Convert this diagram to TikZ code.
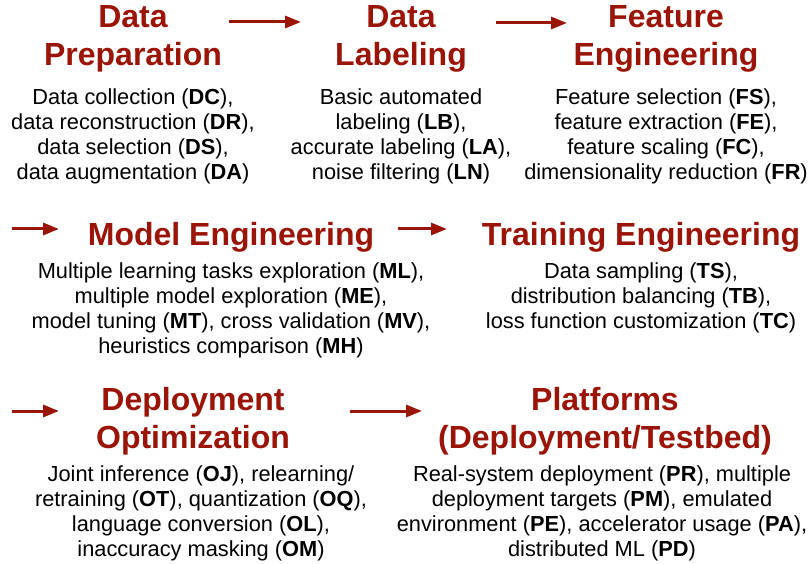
\documentclass[tikz,border=0pt]{standalone}
\usepackage{fontspec}
\setmainfont{Liberation Sans}
\usetikzlibrary{arrows.meta,positioning}
\definecolor{stagered}{RGB}{155,20,8}

\begin{document}
\begin{tikzpicture}[x=1pt, y=1pt, title/.style={font=\fontsize{32}{38}\selectfont\bfseries, text=stagered, align=center, inner sep=0pt, anchor=north}, body/.style={font=\fontsize{21.8}{25}\selectfont, align=center, inner sep=0pt}, arr/.style={-{Triangle[length=16pt,width=12pt]}, line width=3pt, draw=stagered}]
\useasboundingbox (0,0) rectangle (809,-564);
\node[title] (prep) at (133,-5) {Data\\Preparation};
\node[title] (label) at (401,-5) {Data\\Labeling};
\node[title] (feat) at (666,-5) {Feature\\Engineering};
\node[title] (model) at (231,-222) {Model Engineering};
\node[title] (train) at (641,-222) {Training Engineering};
\node[title] (deploy) at (193,-387) {Deployment\\Optimization};
\node[title] (plat) at (605,-387) {Platforms\\(Deployment/Testbed)};
\node[body, below=16pt of prep] (prepbody) {Data collection (\textbf{DC}),\\data reconstruction (\textbf{DR}),\\data selection (\textbf{DS}),\\data augmentation (\textbf{DA})};
\node[body, below=16pt of label] (labelbody) {Basic automated\\labeling (\textbf{LB}),\\accurate labeling (\textbf{LA}),\\noise filtering (\textbf{LN})};
\node[body, below=16pt of feat] (featbody) {Feature selection (\textbf{FS}),\\feature extraction (\textbf{FE}),\\feature scaling (\textbf{FC}),\\dimensionality reduction (\textbf{FR})};
\node[body, below=10pt of model] (modelbody) {Multiple learning tasks exploration (\textbf{ML}),\\multiple model exploration (\textbf{ME}),\\model tuning (\textbf{MT}), cross validation (\textbf{MV}),\\heuristics comparison (\textbf{MH})};
\node[body, below=10pt of train] (trainbody) {Data sampling (\textbf{TS}),\\distribution balancing (\textbf{TB}),\\loss function customization (\textbf{TC})};
\node[body, below=10pt of deploy, xshift=8pt] (deploybody) {Joint inference (\textbf{OJ}), relearning/\\retraining (\textbf{OT}), quantization (\textbf{OQ}),\\language conversion (\textbf{OL}),\\inaccuracy masking (\textbf{OM})};
\node[body, below=10pt of plat, xshift=-3pt] (platbody) {Real-system deployment (\textbf{PR}), multiple\\deployment targets (\textbf{PM}), emulated\\environment (\textbf{PE}), accelerator usage (\textbf{PA}),\\distributed ML (\textbf{PD})};
% arrow ends
\coordinate (a1s) at (229,-22);
\coordinate (a1e) at (301,-22);
\coordinate (a2s) at (496,-23);
\coordinate (a2e) at (567,-23);
\coordinate (a3s) at (12,-229);
\coordinate (a3e) at (59,-229);
\coordinate (a4s) at (398,-229);
\coordinate (a4e) at (447,-229);
\coordinate (a5s) at (12,-411);
\coordinate (a5e) at (59,-411);
\coordinate (a6s) at (350,-411);
\coordinate (a6e) at (422,-411);
\draw[arr] (a1s) -- (a1e);
\draw[arr] (a2s) -- (a2e);
\draw[arr] (a3s) -- (a3e);
\draw[arr] (a4s) -- (a4e);
\draw[arr] (a5s) -- (a5e);
\draw[arr] (a6s) -- (a6e);
\end{tikzpicture}
\end{document}
